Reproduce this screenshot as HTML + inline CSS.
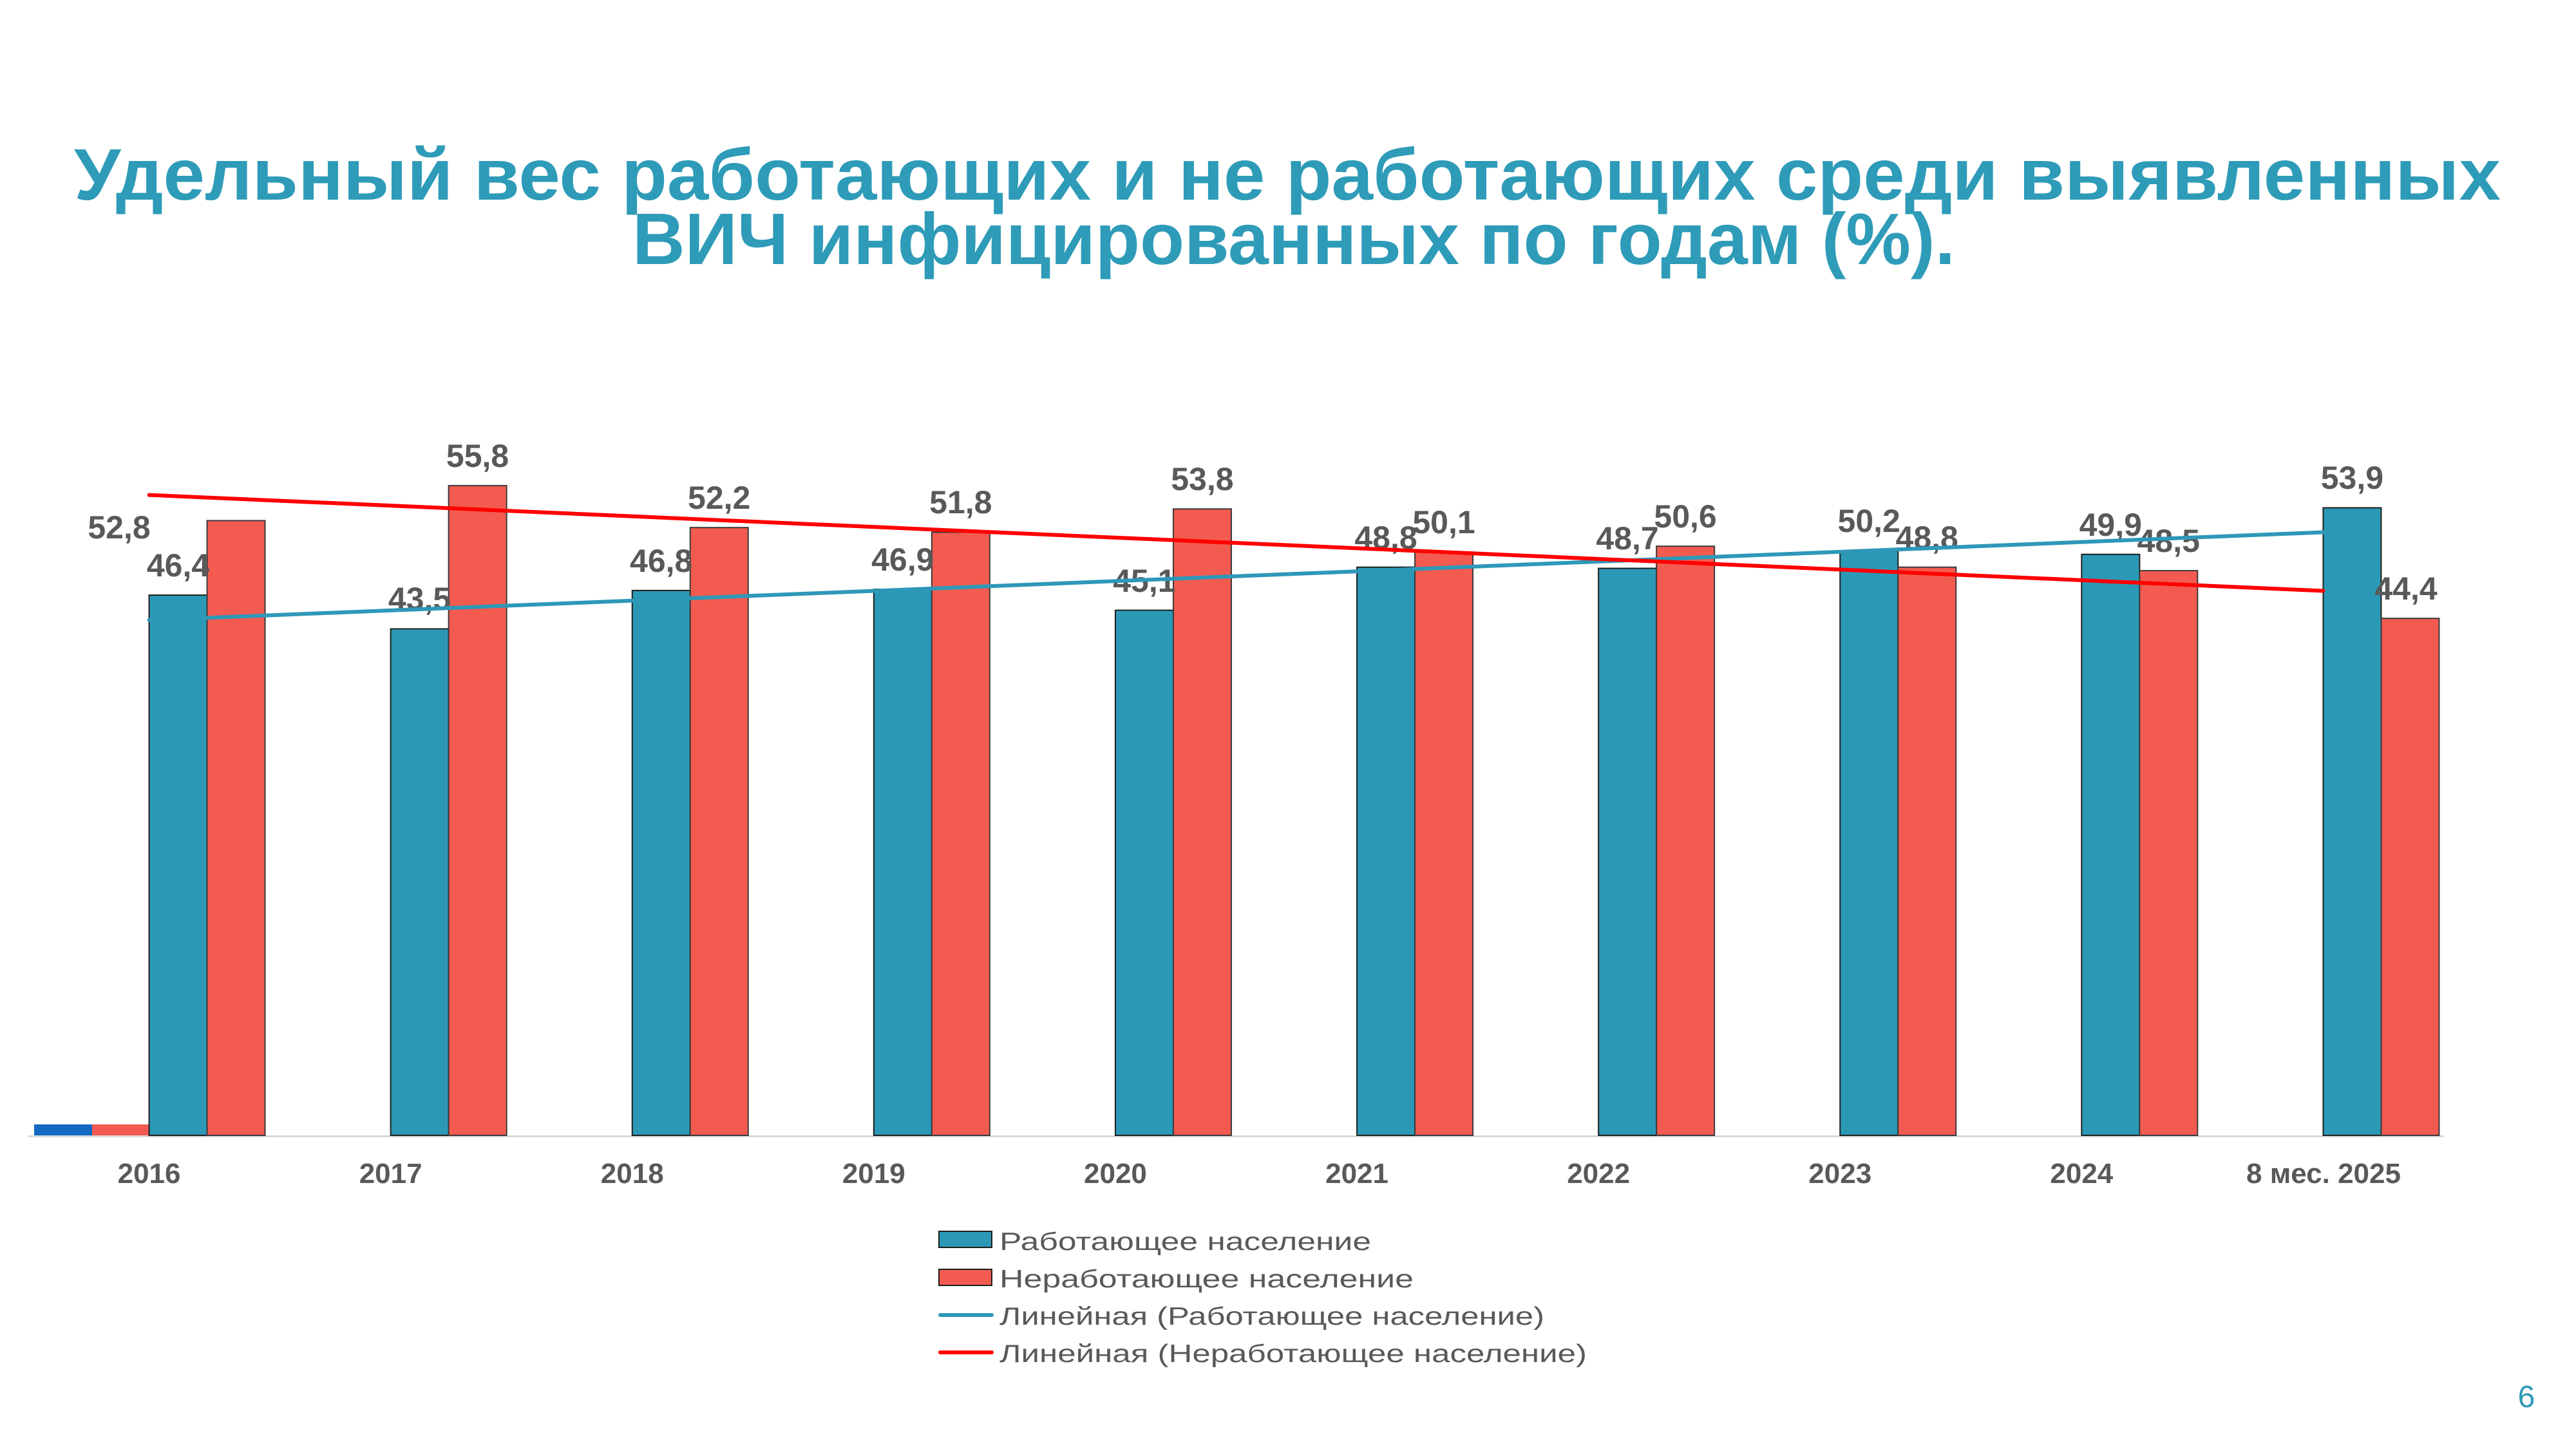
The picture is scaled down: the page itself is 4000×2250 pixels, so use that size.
<!DOCTYPE html>
<html>
<head>
<meta charset="utf-8">
<style>
  html, body { margin:0; padding:0; background:#ffffff; }
  body { width:4000px; height:2250px; overflow:hidden; }
  svg { display:block; }
  .lbl { font-family:"Liberation Sans", "DejaVu Sans", sans-serif; font-weight:bold; font-size:50px; fill:#595959; text-anchor:middle; }
  .cat { font-family:"Liberation Sans", "DejaVu Sans", sans-serif; font-weight:bold; font-size:44px; fill:#595959; text-anchor:middle; }
  .leg { font-family:"Liberation Sans", "DejaVu Sans", sans-serif; font-size:39px; fill:#595959; }
  .title { font-family:"Liberation Sans", "DejaVu Sans", sans-serif; font-weight:bold; font-size:113px; fill:#2E9BB8; }
</style>
</head>
<body>
<svg width="4000" height="2250" viewBox="0 0 4000 2250" xmlns="http://www.w3.org/2000/svg">
  <rect x="0" y="0" width="4000" height="2250" fill="#ffffff"/>

  <!-- Title -->
  <text class="title" x="115" y="310" textLength="3768" lengthAdjust="spacingAndGlyphs">Удельный вес работающих и не работающих среди выявленных</text>
  <text class="title" x="982" y="410" textLength="2054" lengthAdjust="spacingAndGlyphs">ВИЧ инфицированных по годам (%).</text>

  <!-- Axis line -->
  <rect x="44" y="1763" width="3751" height="3" fill="#D9D9D9"/>

  <!-- Small bars 2016 -->
  <rect x="53" y="1746" width="90" height="17" fill="#1268C2"/>
  <rect x="143" y="1746" width="89" height="17" fill="#F35B50"/>

  <!-- Blue bars (Работающее) -->
  <g fill="#2B99B6" stroke="#1f1f1f" stroke-width="2">
    <rect x="231.55" y="924.1" width="90" height="838.9"/>
    <rect x="606.65" y="976.5" width="90" height="786.5"/>
    <rect x="981.75" y="916.9" width="90" height="846.1"/>
    <rect x="1356.85" y="915.0" width="90" height="848.0"/>
    <rect x="1731.95" y="947.6" width="90" height="815.4"/>
    <rect x="2107.05" y="880.7" width="90" height="882.3"/>
    <rect x="2482.15" y="882.5" width="90" height="880.5"/>
    <rect x="2857.25" y="855.4" width="90" height="907.6"/>
    <rect x="3232.35" y="860.8" width="90" height="902.2"/>
    <rect x="3607.45" y="788.5" width="90" height="974.5"/>
  </g>

  <!-- Red bars (Неработающее) -->
  <g fill="#F35B50" stroke="#3a3a3a" stroke-width="2">
    <rect x="321.55" y="808.4" width="90" height="954.6"/>
    <rect x="696.65" y="754.1" width="90" height="1008.9"/>
    <rect x="1071.75" y="819.2" width="90" height="943.8"/>
    <rect x="1446.85" y="826.5" width="90" height="936.5"/>
    <rect x="1821.95" y="790.3" width="90" height="972.7"/>
    <rect x="2197.05" y="857.2" width="90" height="905.8"/>
    <rect x="2572.15" y="848.2" width="90" height="914.8"/>
    <rect x="2947.25" y="880.7" width="90" height="882.3"/>
    <rect x="3322.35" y="886.1" width="90" height="876.9"/>
    <rect x="3697.45" y="960.2" width="90" height="802.8"/>
  </g>

  <!-- Data labels -->
  <g class="lbl">
    <text x="185" y="836">52,8</text>
    <text x="276.5" y="895">46,4</text>

    <text x="651.6" y="947">43,5</text>
    <text x="741.6" y="725">55,8</text>

    <text x="1026.7" y="888">46,8</text>
    <text x="1116.7" y="790">52,2</text>

    <text x="1401.8" y="886">46,9</text>
    <text x="1491.8" y="797">51,8</text>

    <text x="1776.9" y="919">45,1</text>
    <text x="1866.9" y="761">53,8</text>

    <text x="2152" y="852">48,8</text>
    <text x="2242" y="828">50,1</text>

    <text x="2527.1" y="853">48,7</text>
    <text x="2617.1" y="819">50,6</text>

    <text x="2902.2" y="826">50,2</text>
    <text x="2992.2" y="852">48,8</text>

    <text x="3277.3" y="832">49,9</text>
    <text x="3367.3" y="857">48,5</text>

    <text x="3652.4" y="759">53,9</text>
    <text x="3736" y="931">44,4</text>
  </g>

  <!-- Trend lines -->
  <line x1="231.55" y1="963" x2="3607.45" y2="826.5" stroke="#2E98B8" stroke-width="6" stroke-linecap="round"/>
  <line x1="231.55" y1="768.6" x2="3607.45" y2="917.5" stroke="#FF0000" stroke-width="6" stroke-linecap="round"/>

  <!-- Category labels -->
  <g class="cat">
    <text x="231.55" y="1837">2016</text>
    <text x="606.65" y="1837">2017</text>
    <text x="981.75" y="1837">2018</text>
    <text x="1356.85" y="1837">2019</text>
    <text x="1731.95" y="1837">2020</text>
    <text x="2107.05" y="1837">2021</text>
    <text x="2482.15" y="1837">2022</text>
    <text x="2857.25" y="1837">2023</text>
    <text x="3232.35" y="1837">2024</text>
    <text x="3608" y="1837">8 мес. 2025</text>
  </g>

  <!-- Legend -->
  <rect x="1458" y="1912" width="82" height="25" fill="#2B99B6" stroke="#1f1f1f" stroke-width="2"/>
  <text class="leg" x="1552" y="1941" textLength="577" lengthAdjust="spacingAndGlyphs">Работающее население</text>

  <rect x="1458" y="1971" width="82" height="25" fill="#F35B50" stroke="#1f1f1f" stroke-width="2"/>
  <text class="leg" x="1552" y="1999" textLength="643" lengthAdjust="spacingAndGlyphs">Неработающее население</text>

  <line x1="1460" y1="2042" x2="1540" y2="2042" stroke="#2E98B8" stroke-width="6" stroke-linecap="round"/>
  <text class="leg" x="1552" y="2057" textLength="846" lengthAdjust="spacingAndGlyphs">Линейная (Работающее население)</text>

  <line x1="1460" y1="2100" x2="1540" y2="2100" stroke="#FF0000" stroke-width="6" stroke-linecap="round"/>
  <text class="leg" x="1552" y="2115" textLength="912" lengthAdjust="spacingAndGlyphs">Линейная (Неработающее население)</text>

  <!-- Page number -->
  <text x="3923" y="2185" font-family="Liberation Sans, DejaVu Sans, sans-serif" font-size="48" fill="#2E9BB8" text-anchor="middle">6</text>
</svg>
</body>
</html>
